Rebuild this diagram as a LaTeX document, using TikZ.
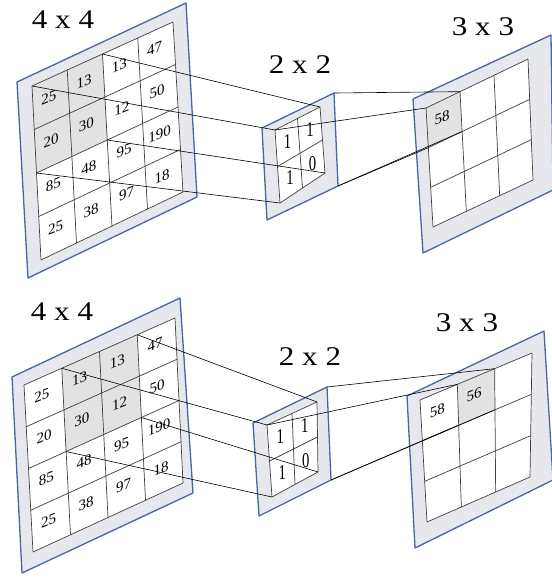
\documentclass[tikz,border=0pt]{standalone}
\usepackage{fontspec}
\setmainfont{Liberation Serif}
\usepackage{xcolor}
\usetikzlibrary{calc}
\definecolor{framedge}{RGB}{72,102,160}
\definecolor{framefill}{RGB}{231,232,237}
\definecolor{cellshade}{RGB}{226,226,226}

\begin{document}
\begin{tikzpicture}[
  x=1pt, y=-1pt,
  frame/.style={draw=framedge, fill=framefill, line width=1.3pt, line join=round},
  gridbox/.style={fill=white},
  gridline/.style={draw=black!75, line width=0.7pt},
  link/.style={draw=black, line width=0.6pt},
  size/.style={font=\fontsize{27}{29}\selectfont, xscale=1.15, inner sep=0pt},
  val/.style={font=\fontsize{15}{16}\selectfont, yslant=0.4, inner sep=0pt, xshift=-2pt, yshift=3pt},
  kval/.style={font=\fontsize{21}{22}\selectfont, xscale=0.7, inner sep=0pt},
]
\useasboundingbox (0,0) rectangle (552,579);

\coordinate (aoTL) at (17,82);   \coordinate (aoTR) at (186,3);
\coordinate (aoBR) at (197,197); \coordinate (aoBL) at (28,278);
\coordinate (aTL) at (32,86);    \coordinate (aTR) at (173,22);
\coordinate (aBR) at (183,192);  \coordinate (aBL) at (41,260);

\coordinate (boTL) at (262,128); \coordinate (boTR) at (334,93);
\coordinate (boBR) at (338,186); \coordinate (boBL) at (267,220);
\coordinate (bTL) at (275,130);  \coordinate (bTR) at (320,107);
\coordinate (bBR) at (325,173);  \coordinate (bBL) at (280,203);

\coordinate (coTL) at (413,99);  \coordinate (coTR) at (551,35);
\coordinate (coBR) at (553,190); \coordinate (coBL) at (423,253);
\coordinate (cTL) at (426,108);  \coordinate (cTR) at (528,59);
\coordinate (cBR) at (533,180);  \coordinate (cBL) at (433,227);

\coordinate (doTL) at (12,377);  \coordinate (doTR) at (180,298);
\coordinate (doBR) at (193,493); \coordinate (doBL) at (22,573);
\coordinate (dTL) at (24,385);   \coordinate (dTR) at (175,318);
\coordinate (dBR) at (183,483);  \coordinate (dBL) at (33,552);

\coordinate (eoTL) at (253,423); \coordinate (eoTR) at (327,387);
\coordinate (eoBR) at (331,480); \coordinate (eoBL) at (259,516);
\coordinate (eTL) at (267,425);  \coordinate (eTR) at (317,402);
\coordinate (eBR) at (318,472);  \coordinate (eBL) at (272,497);

\coordinate (foTL) at (407,396); \coordinate (foTR) at (544,331);
\coordinate (foBR) at (553,480); \coordinate (foBL) at (415,548);
\coordinate (fTL) at (420,400);  \coordinate (fTR) at (532,353);
\coordinate (fBR) at (530,477);  \coordinate (fBL) at (427,522);

\foreach \p/\n in {a/4,b/2,c/3,d/4,e/2,f/3}{
  \draw[frame] (\p oTL) -- (\p oTR) -- (\p oBR) -- (\p oBL) -- cycle;
  \fill[gridbox] (\p TL) -- (\p TR) -- (\p BR) -- (\p BL) -- cycle;
  \foreach \i in {0,...,\n}{
    \foreach \j in {0,...,\n}{
      \coordinate (\p\i\j) at ($($(\p TL)!\i/\n!(\p TR)$)!\j/\n!($(\p BL)!\i/\n!(\p BR)$)$);
    }
  }
}

\fill[cellshade] (a00) -- (a20) -- (a22) -- (a02) -- cycle;
\fill[cellshade] (c00) -- (c10) -- (c11) -- (c01) -- cycle;
\fill[cellshade] (d10) -- (d30) -- (d32) -- (d12) -- cycle;
\fill[cellshade] (f10) -- (f20) -- (f21) -- (f11) -- cycle;

\foreach \p/\n in {a/4,b/2,c/3,d/4,e/2,f/3}{
  \foreach \k in {0,...,\n}{
    \draw[gridline] (\p\k 0) -- (\p\k\n);
    \draw[gridline] (\p 0\k) -- (\p\n\k);
  }
}

\foreach \p in {a,d}{
  \foreach \c/\r/\v [evaluate=\c as \cc using int(\c+1), evaluate=\r as \rr using int(\r+1)] in
    {0/0/25,1/0/13,2/0/13,3/0/47,0/1/20,1/1/30,2/1/12,3/1/50,
     0/2/85,1/2/48,2/2/95,3/2/190,0/3/25,1/3/38,2/3/97,3/3/18}
    \node[val] (\p v\c\r) at ($(\p\c\r)!0.5!(\p\cc\rr)$) {\v};
}
\foreach \p in {b,e}{
  \foreach \c/\r/\v [evaluate=\c as \cc using int(\c+1), evaluate=\r as \rr using int(\r+1)] in
    {0/0/1,1/0/1,0/1/1,1/1/0}
    \node[kval] (\p v\c\r) at ($(\p\c\r)!0.5!(\p\cc\rr)$) {\v};
}
\node[val] (cv00) at ($(c00)!0.5!(c11)$) {58};
\node[val] (fv00) at ($(f00)!0.5!(f11)$) {58};
\node[val] (fv10) at ($(f10)!0.5!(f21)$) {56};

\node[size] (atitle) at (63,20) {4 x 4};
\node[size] (btitle) at (300,65) {2 x 2};
\node[size] (ctitle) at (483,27) {3 x 3};
\node[size] (dtitle) at (62,312) {4 x 4};
\node[size] (etitle) at (310,357) {2 x 2};
\node[size] (ftitle) at (467,323) {3 x 3};

\draw[link] (a00) -- (b00);
\draw[link] (a20) -- (b20);
\draw[link] (a22) -- (b22);
\draw[link] (a02) -- (b02);
\draw[link] (boTR) -- (c10);
\draw[link] (b00) -- (c00);
\draw[link] (boBR) -- (c11);
\draw[link] (boBR) -- (c01);

\draw[link] (d10) -- (e00);
\draw[link] (d30) -- (e20);
\draw[link] (d32) -- (e22);
\draw[link] (d12) -- (e02);
\draw[link] (eoTR) -- (f20);
\draw[link] (e00) -- (f10);
\draw[link] (eoBR) -- (f21);
\draw[link] (eoBR) -- (f11);
\end{tikzpicture}
\end{document}
